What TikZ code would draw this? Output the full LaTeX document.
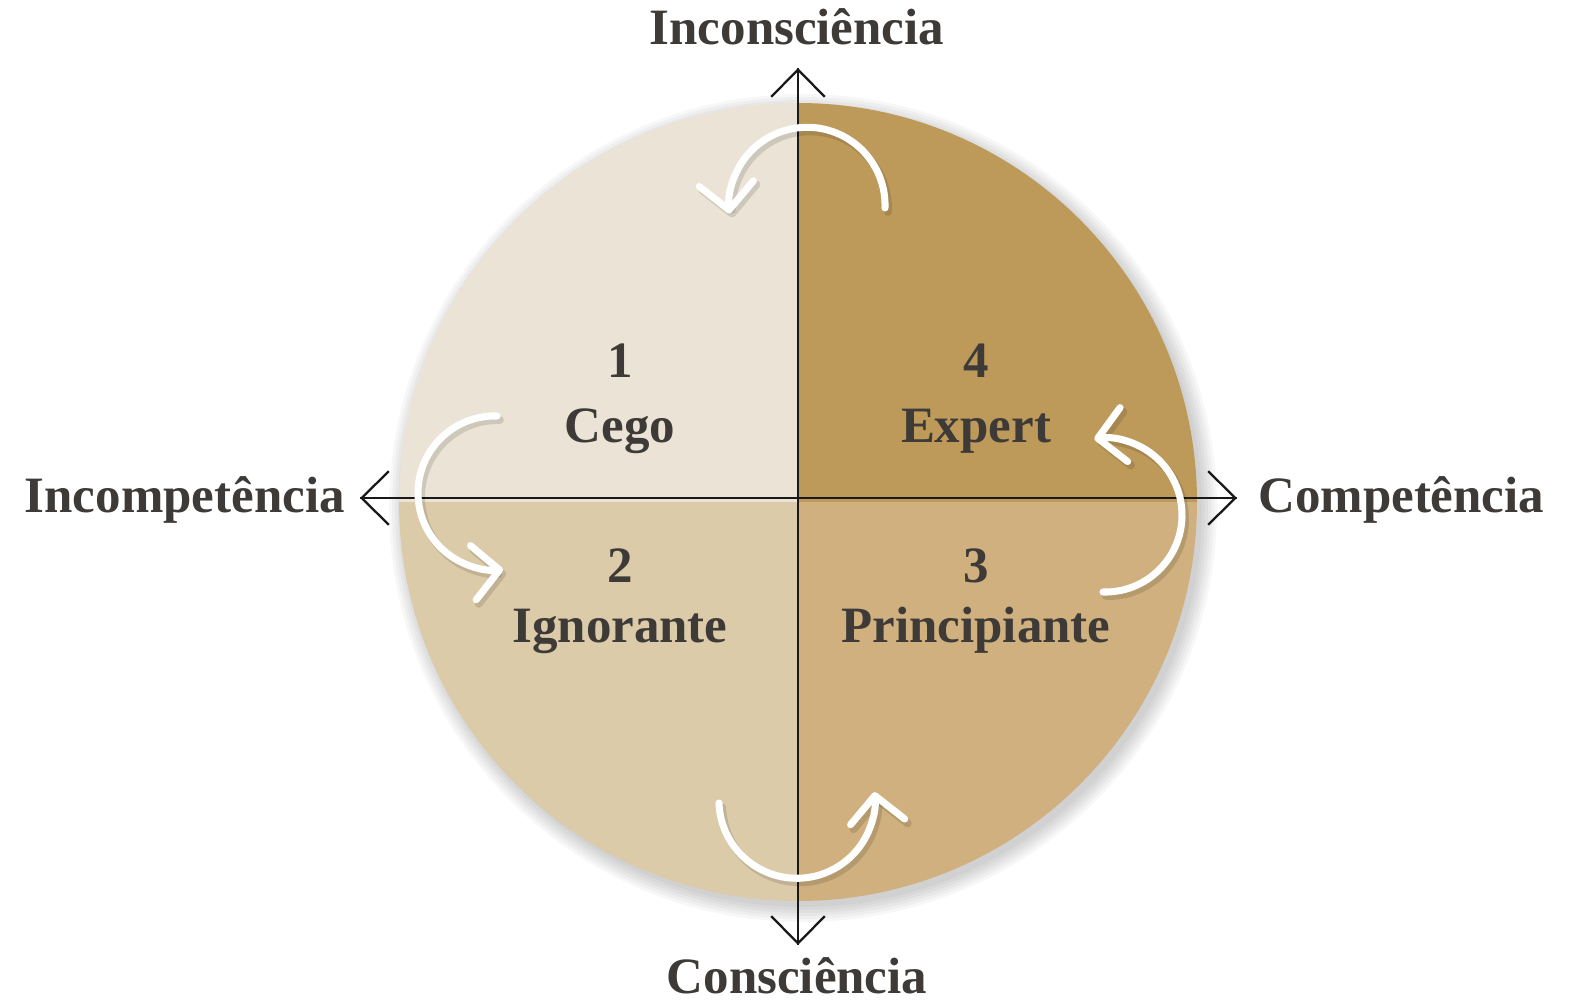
\documentclass[tikz,border=0pt]{standalone}
\usepackage{fontspec}
\setmainfont{Liberation Serif}
\usetikzlibrary{arrows.meta}
\definecolor{qTL}{HTML}{EBE4D6}
\definecolor{qTR}{HTML}{BE9A5A}
\definecolor{qBL}{HTML}{DCCBA9}
\definecolor{qBR}{HTML}{CFB07E}
\definecolor{txt}{HTML}{3E3A37}
\tikzset{
  lbl/.style={text=txt,font=\fontsize{29}{35}\selectfont\bfseries,anchor=base,inner sep=0pt},
  axis/.style={line width=1.3pt,draw=black!90,-{Straight Barb[length=15.5pt,width=30.5pt]}},
  warrow/.style={line width=4pt,draw=white,line cap=round,-{Straight Barb[length=15pt,width=31pt,round]}},
  wshadow/.style={line width=4.5pt,draw=black,opacity=0.12,line cap=round,-{Straight Barb[length=15pt,width=31pt,round]}}
}
\begin{document}
\begin{tikzpicture}[x=0.02cm,y=-0.02cm]
\useasboundingbox (0,0) rectangle (1570,1007);
\fill[white] (0,0) rectangle (1570,1007);
% soft shadow of the disc
\foreach \rr in {399,402,405,408,411,414}{
  \fill[black,opacity=0.03] (803,508) circle[radius=\rr];
}
\coordinate (c) at (798,502);
% quadrants
\fill[qTL] (c) -- +(-399,0) arc[start angle=180,end angle=270,radius=399] -- cycle;
\fill[qTR] (c) -- +(0,-399) arc[start angle=270,end angle=360,radius=399] -- cycle;
\fill[qBR] (c) -- +(399,0) arc[start angle=0,end angle=90,radius=399] -- cycle;
\fill[qBL] (c) -- +(0,399) arc[start angle=90,end angle=180,radius=399] -- cycle;
% axes
\coordinate (top) at (798,68);
\coordinate (bot) at (798,945);
\coordinate (lft) at (360,498);
\coordinate (rgt) at (1237,498);
\draw[axis] (bot) -- (top);
\draw[axis] (top) -- (bot);
\draw[axis] (rgt) -- (lft);
\draw[axis] (lft) -- (rgt);
% axis labels
\node[lbl] (inc) at (797,45) {Inconsciência};
\node[lbl] (con) at (797,993) {Consciência};
\node[lbl,anchor=base east] (incomp) at (345,512) {Incompetência};
\node[lbl,anchor=base west] (comp) at (1258,512) {Competência};
% quadrant labels
\node[lbl] (n1) at (620,377) {1};
\node[lbl] (t1) at (620,442) {Cego};
\node[lbl] (n4) at (976,377) {4};
\node[lbl] (t4) at (976,442) {Expert};
\node[lbl] (n2) at (620,582) {2};
\node[lbl] (t2) at (620,642) {Ignorante};
\node[lbl] (n3) at (976,582) {3};
\node[lbl] (t3) at (976,642) {Principiante};
% curved white arrows
\coordinate (ta) at (885,208);
\coordinate (la) at (497,416);
\coordinate (ba) at (719,803);
\coordinate (ra) at (1103,592);
\foreach \p/\a/\b/\r in {ta/2/-186/78, la/-88.5/-276/77, ba/178/-6/78, ra/91.5/-98/77}{
  \draw[wshadow] ([shift={(3,4)}]\p) arc[start angle=\a,end angle=\b,radius=\r];
  \draw[warrow] (\p) arc[start angle=\a,end angle=\b,radius=\r];
}
\end{tikzpicture}
\end{document}
